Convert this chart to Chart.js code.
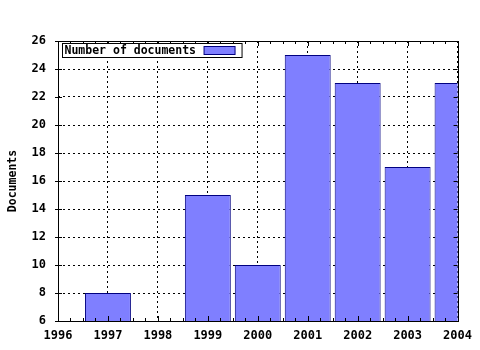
<!DOCTYPE html>
<html>
<head>
<meta charset="utf-8">
<script src="https://cdn.jsdelivr.net/npm/chart.js@4/dist/chart.umd.min.js"></script>
<style>
  html, body { margin: 0; padding: 0; background: #fff; }
  #wrap { width: 480px; height: 350px; }
</style>
</head>
<body>
<div id="wrap"><canvas id="graph" width="480" height="350"></canvas></div>
<script>
const years = [1997, 1999, 2000, 2001, 2002, 2003, 2004];
const docCounts = [8, 15, 10, 25, 23, 17, 23];
const seriesLabel = "Number of documents";
const yTitle = "Documents";

const fontFam = "'DejaVu Sans Mono', 'Liberation Mono', monospace";

// frame, small ticks and the boxed legend inside the plot
const framePlugin = {
  id: "frame",
  afterDraw(chart) {
    const { ctx, chartArea: a, scales } = chart;
    const xs = scales.x, ys = scales.y;
    ctx.save();
    ctx.strokeStyle = "#000";
    ctx.lineWidth = 1;
    ctx.beginPath();
    // x ticks every quarter year, top and bottom
    for (let v = xs.min; v <= xs.max + 1e-6; v += 0.25) {
      const px = Math.round(xs.getPixelForValue(v)) + 0.5;
      const len = Math.abs(v - Math.round(v)) < 1e-6 ? 5 : 3;
      ctx.moveTo(px, a.bottom); ctx.lineTo(px, a.bottom - len);
      ctx.moveTo(px, a.top); ctx.lineTo(px, a.top + len);
    }
    // y ticks at labels
    for (let v = ys.min; v <= ys.max + 1e-6; v += 2) {
      const py = Math.round(ys.getPixelForValue(v)) + 0.5;
      ctx.moveTo(a.left - 3, py); ctx.lineTo(a.left + 4, py);
      ctx.moveTo(a.right, py); ctx.lineTo(a.right - 4, py);
    }
    ctx.stroke();
    ctx.strokeRect(Math.round(a.left) + 0.5, Math.round(a.top) + 0.5,
      Math.round(a.right - a.left), Math.round(a.bottom - a.top));

    // legend
    const ds = chart.data.datasets[0];
    ctx.font = "bold 11.5px " + fontFam;
    const tw = ctx.measureText(ds.label).width;
    const lx = Math.round(a.left) + 4.5, ly = Math.round(a.top) + 2.5;
    const lw = tw + 48, lh = 14;
    ctx.fillStyle = "#fff";
    ctx.fillRect(lx, ly, lw, lh);
    ctx.strokeRect(lx, ly, lw, lh);
    ctx.fillStyle = "#000";
    ctx.textBaseline = "middle";
    ctx.fillText(ds.label, lx + 2, ly + lh / 2 + 1);
    const sx = lx + tw + 10;
    ctx.fillStyle = ds.backgroundColor;
    ctx.fillRect(sx, ly + 3, 31, 8);
    ctx.strokeStyle = ds.borderColor;
    ctx.strokeRect(sx, ly + 3, 31, 8);
    ctx.restore();
  }
};

const ctx = document.getElementById("graph").getContext("2d");
new Chart(ctx, {
  type: "bar",
  data: {
    datasets: [{
      label: seriesLabel,
      data: years.map((y, i) => ({ x: y, y: docCounts[i] })),
      backgroundColor: "#7f7fff",
      borderColor: "#000080",
      borderWidth: 1,
      barPercentage: 0.92,
      categoryPercentage: 1
    }]
  },
  plugins: [framePlugin],
  options: {
    responsive: false,
    animation: false,
    layout: { padding: { top: 41, right: 21, left: 0, bottom: 0 } },
    plugins: {
      legend: { display: false },
      tooltip: { enabled: false }
    },
    scales: {
      x: {
        type: "linear",
        min: 1996,
        max: 2004,
        offset: false,
        afterFit(s) { s.height = 29; },
        border: { display: false, dash: [2, 3] },
        grid: { color: "#000", drawTicks: false, offset: false },
        ticks: {
          stepSize: 1,
          color: "#000",
          padding: 8,
          font: { family: fontFam, size: 12, weight: "bold" },
          callback: v => String(v)
        }
      },
      y: {
        min: 6,
        max: 26,
        afterFit(s) { s.width = 58; },
        border: { display: false, dash: [2, 3] },
        grid: { color: "#000", drawTicks: false },
        ticks: {
          stepSize: 2,
          color: "#000",
          padding: 12,
          font: { family: fontFam, size: 12, weight: "bold" }
        },
        title: {
          display: true,
          text: yTitle,
          color: "#000",
          padding: { top: 6, bottom: 0 },
          font: { family: fontFam, size: 11.5, weight: "bold" }
        }
      }
    }
  }
});
</script>
</body>
</html>
